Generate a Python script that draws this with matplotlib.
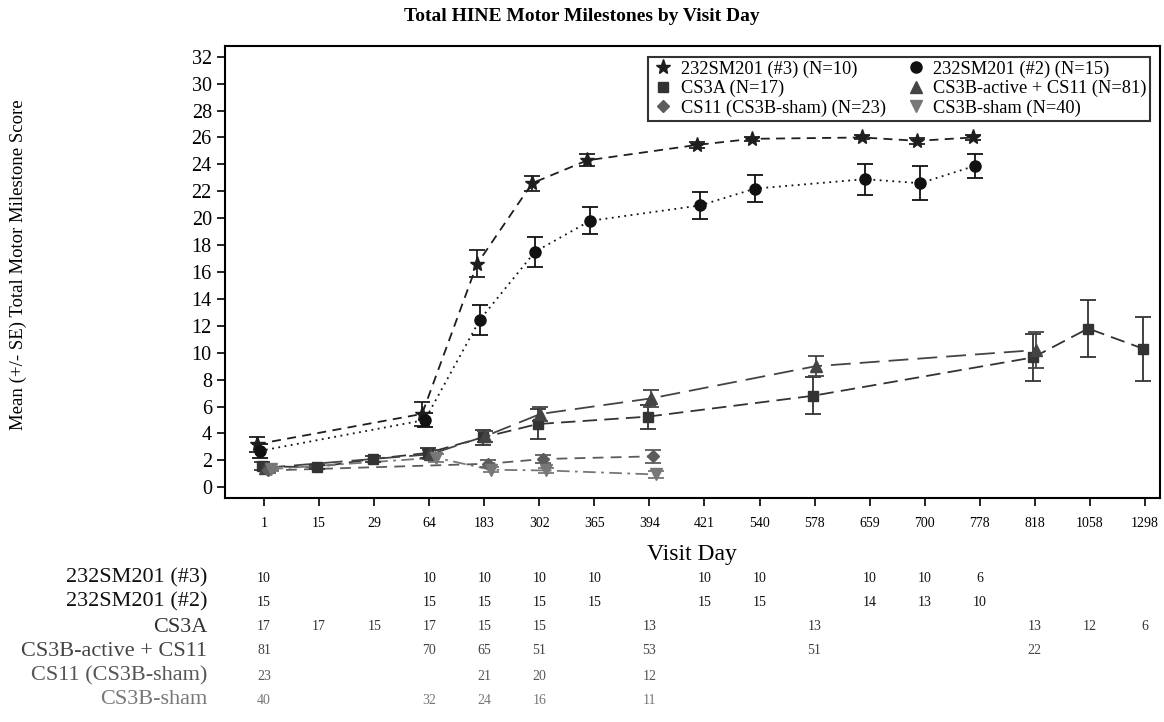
import matplotlib
matplotlib.use("Agg")
import matplotlib.pyplot as plt
from matplotlib.lines import Line2D
from matplotlib.transforms import blended_transform_factory

plt.rcParams["font.family"] = ["Liberation Serif", "DejaVu Serif"]

# visit days on a categorical axis
visit_days = [1, 15, 29, 64, 183, 302, 365, 394, 421, 540, 578, 659, 700, 778, 818, 1058, 1298]

# 232SM201 (#3)
s3_days = [1, 64, 183, 302, 365, 421, 540, 659, 700, 778]
s3_mean = [3.2, 5.45, 16.6, 22.6, 24.3, 25.45, 25.9, 26.0, 25.75, 26.0]
s3_se = [0.55, 0.9, 1.0, 0.55, 0.45, 0.2, 0.15, 0.15, 0.2, 0.2]
s3_n = [10, 10, 10, 10, 10, 10, 10, 10, 10, 6]

# 232SM201 (#2)
s2_days = [1, 64, 183, 302, 365, 421, 540, 659, 700, 778]
s2_mean = [2.7, 5.0, 12.45, 17.5, 19.8, 20.95, 22.2, 22.9, 22.6, 23.9]
s2_se = [0.5, 0.55, 1.1, 1.1, 1.0, 1.0, 1.0, 1.15, 1.25, 0.9]
s2_n = [15, 15, 15, 15, 15, 15, 15, 14, 13, 10]

# CS3A
cs3a_days = [1, 15, 29, 64, 183, 302, 394, 578, 818, 1058, 1298]
cs3a_mean = [1.55, 1.5, 2.1, 2.55, 3.7, 4.7, 5.25, 6.8, 9.65, 11.8, 10.3]
cs3a_se = [0.3, 0.15, 0.2, 0.4, 0.55, 1.1, 0.9, 1.38, 1.77, 2.1, 2.37]
cs3a_n = [17, 17, 15, 17, 15, 15, 13, 13, 13, 12, 6]

# CS3B-active + CS11
cs3b_days = [1, 64, 183, 302, 394, 578, 818]
cs3b_mean = [1.45, 2.45, 3.8, 5.45, 6.6, 9.0, 10.2]
cs3b_se = [0.2, 0.35, 0.4, 0.55, 0.6, 0.75, 1.35]
cs3b_n = [81, 70, 65, 51, 53, 51, 22]

# CS11 (CS3B-sham)
cs11_days = [1, 183, 302, 394]
cs11_mean = [1.25, 1.75, 2.1, 2.3]
cs11_se = [0.2, 0.25, 0.3, 0.5]
cs11_n = [23, 21, 20, 12]

# CS3B-sham
sham_days = [1, 64, 183, 302, 394]
sham_mean = [1.35, 2.2, 1.3, 1.25, 0.95]
sham_se = [0.15, 0.3, 0.2, 0.2, 0.25]
sham_n = [40, 32, 24, 16, 11]

series = [
    # name, legend label, days, mean, se, n, marker, ms, colour, linestyle, x offset
    ("232SM201 (#3)", "232SM201 (#3) (N=10)", s3_days, s3_mean, s3_se, s3_n, "*", 11, "#1e1e1e", (0, (5, 3.5)), -0.13),
    ("232SM201 (#2)", "232SM201 (#2) (N=15)", s2_days, s2_mean, s2_se, s2_n, "o", 8, "#111111", (0, (1, 2.5)), -0.08),
    ("CS3A", "CS3A (N=17)", cs3a_days, cs3a_mean, cs3a_se, cs3a_n, "s", 7.5, "#333333", (0, (8, 4)), -0.03),
    ("CS3B-active + CS11", "CS3B-active + CS11 (N=81)", cs3b_days, cs3b_mean, cs3b_se, cs3b_n, "^", 8, "#444444", (0, (11, 5)), 0.02),
    ("CS11 (CS3B-sham)", "CS11 (CS3B-sham) (N=23)", cs11_days, cs11_mean, cs11_se, cs11_n, "D", 6.5, "#5c5c5c", (0, (6, 4)), 0.07),
    ("CS3B-sham", "CS3B-sham (N=40)", sham_days, sham_mean, sham_se, sham_n, "v", 8, "#777777", (0, (7, 3, 1.5, 3)), 0.12),
]

fig = plt.figure(figsize=(11.64, 7.22), dpi=100)
ax = fig.add_axes([0.1933, 0.3102, 0.8030, 0.6261])

handles = []
for name, label, days, mean, se, n, marker, ms, color, ls, off in series:
    xs = [visit_days.index(d) + off for d in days]
    ax.plot(xs, mean, linestyle=ls, color=color, lw=1.3, zorder=2)
    ax.errorbar(xs, mean, yerr=se, fmt=marker, ms=ms, color=color, ecolor=color,
                elinewidth=1.3, capsize=6, capthick=1.3, zorder=3)
    handles.append(Line2D([], [], marker=marker, ms=ms, color=color, linestyle="none", label=label))

ax.set_xlim(-0.71, 16.27)
ax.set_ylim(-0.8, 32.8)
ax.set_xticks(range(len(visit_days)))
ax.set_xticklabels([str(d) for d in visit_days], fontsize=10)
ax.set_yticks(range(0, 33, 2))
ax.tick_params(axis="y", labelsize=14.5, length=6, width=1.2, direction="out")
ax.tick_params(axis="x", length=6, width=1.2, direction="out", pad=8)
for sp in ax.spines.values():
    sp.set_linewidth(1.5)

ax.set_xlabel("Visit Day", fontsize=17, labelpad=10)
fig.text(0.016, 0.633, "Mean (+/- SE) Total Motor Milestone Score", rotation=90,
         ha="center", va="center", fontsize=13.5)
fig.text(0.5, 0.977, "Total HINE Motor Milestones by Visit Day", ha="center", va="center",
         fontsize=14, fontweight="bold")

# legend: 3 rows, 2 columns, filled row by row
order = [0, 2, 4, 1, 3, 5]
leg = ax.legend([handles[i] for i in order], [handles[i].get_label() for i in order],
                ncol=2, loc="upper right", bbox_to_anchor=(0.99, 0.976), borderaxespad=0,
                fontsize=13.2, frameon=True, fancybox=False, edgecolor="black",
                handletextpad=0.3, columnspacing=1.0, labelspacing=0.12, borderpad=0.2,
                handlelength=1.3)
leg.get_frame().set_linewidth(1.5)

# number at risk table under the axis
trans = blended_transform_factory(ax.transData, fig.transFigure)
row_y = [578, 602, 627, 651, 676, 700]
label_colors = ["#111111", "#111111", "#333333", "#444444", "#555555", "#777777"]
for (name, label, days, mean, se, n, *_), y, c in zip(series, row_y, label_colors):
    yf = 1 - y / 722
    fig.text(207 / 1164, yf, name, ha="right", va="center", fontsize=16, color=c)
    for d, cnt in zip(days, n):
        ax.text(visit_days.index(d), yf, str(cnt), transform=trans, ha="center", va="center",
                fontsize=10, color=c)

fig.savefig("out.png", dpi=100)
